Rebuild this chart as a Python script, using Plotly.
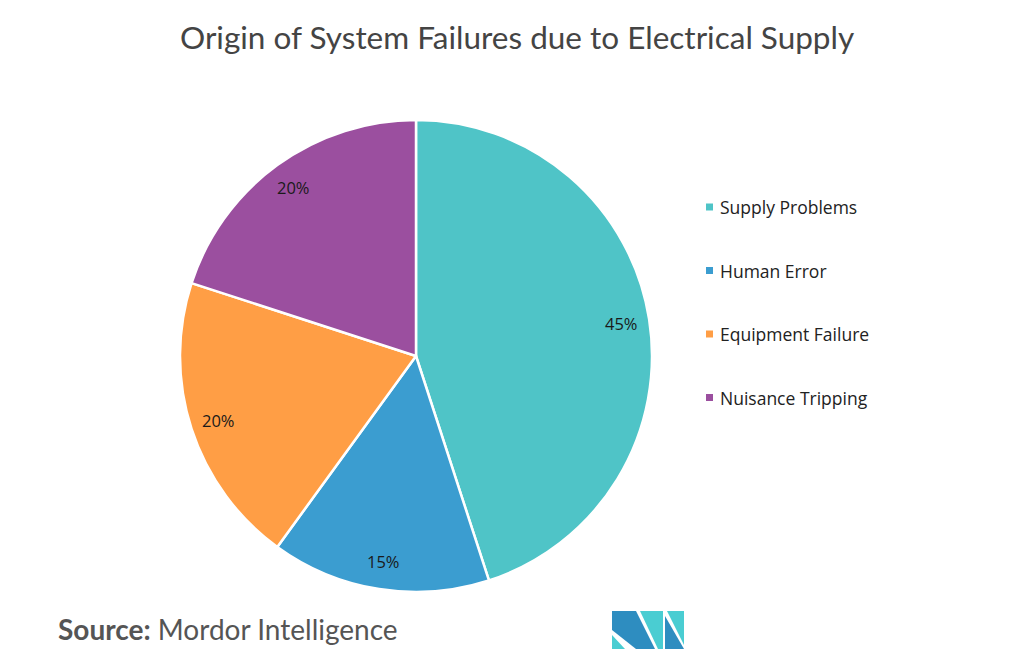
import math
import plotly.graph_objects as go

# ---- data ----
categories = ["Supply Problems", "Human Error", "Equipment Failure", "Nuisance Tripping"]
values = [45, 15, 20, 20]
colors = ["#4FC4C7", "#3B9DD0", "#FF9E45", "#9B4F9F"]

title_text = "Origin of System Failures due to Electrical Supply"

W, H = 1036, 664
CX, CY, R = 416, 356, 236  # pie centre / radius in pixels


def px(x):
    return x / W


def py(y):
    return 1 - y / H


fig = go.Figure()
fig.add_trace(go.Pie(
    labels=categories,
    values=values,
    sort=False,
    direction="clockwise",
    rotation=0,
    marker=dict(colors=colors, line=dict(color="white", width=2.5)),
    textinfo="none",
    hoverinfo="label+percent",
    showlegend=False,
    domain=dict(x=[px(CX - R), px(CX + R)], y=[py(CY + R), py(CY - R)]),
))

annotations = []
# slice labels, placed from the data's cumulative angles
total = sum(values)
cum = 0
for v in values:
    mid = (cum + v / 2) / total * 2 * math.pi
    cum += v
    lx = CX + 0.88 * R * math.sin(mid)
    ly = CY - 0.88 * R * math.cos(mid)
    annotations.append(dict(
        x=px(lx), y=py(ly), xref="paper", yref="paper",
        text=f"{round(v / total * 100)}%", showarrow=False,
        font=dict(family="Open Sans", size=16.5, color="#1a1a1a"),
        xanchor="center", yanchor="middle",
    ))

# legend (custom, to match spacing)
shapes = []
leg_y0, leg_dy = 207, 63.5
for i, (lab, col) in enumerate(zip(categories, colors)):
    yy = leg_y0 + i * leg_dy
    shapes.append(dict(type="rect", xref="paper", yref="paper",
                       x0=px(706), x1=px(713), y0=py(yy + 3.5), y1=py(yy - 3.5),
                       fillcolor=col, line=dict(width=0)))
    annotations.append(dict(
        x=px(718), y=py(yy), xref="paper", yref="paper", text=lab,
        showarrow=False, xanchor="left", yanchor="middle",
        font=dict(family="Open Sans", size=17.5, color="#222222"),
    ))

# title
annotations.append(dict(
    x=px(517), y=py(37), xref="paper", yref="paper", text=title_text,
    showarrow=False, xanchor="center", yanchor="middle",
    font=dict(family="Lato", size=31.5, color="#444444"),
))

# source
annotations.append(dict(
    x=px(56), y=py(629), xref="paper", yref="paper",
    text="<b>Source:</b> Mordor Intelligence",
    showarrow=False, xanchor="left", yanchor="middle",
    font=dict(family="Lato", size=28, color="#555555"),
))

# logo
def path(pts):
    s = "M " + " L ".join(f"{px(x)},{py(y)}" for x, y in pts) + " Z"
    return s

dark, teal = "#2E8DC0", "#4ACDD2"
logo = [
    ([(612, 611), (636, 611), (655, 649), (636, 649), (612, 630)], dark),
    ([(612, 635), (612, 649), (625, 649)], teal),
    ([(640, 611), (663, 611), (663, 649), (658, 649)], teal),
    ([(667, 611), (684, 611), (684, 645)], teal),
    ([(665, 616), (684, 649), (665, 649)], dark),
]
for pts, col in logo:
    shapes.append(dict(type="path", xref="paper", yref="paper", path=path(pts),
                       fillcolor=col, line=dict(width=0)))

fig.update_layout(
    width=W, height=H, autosize=False,
    margin=dict(l=0, r=0, t=0, b=0),
    paper_bgcolor="white", plot_bgcolor="white",
    annotations=annotations, shapes=shapes,
)

fig.write_html("out.html", config={"displayModeBar": False},
               post_script="document.body.style.margin='0px';")
